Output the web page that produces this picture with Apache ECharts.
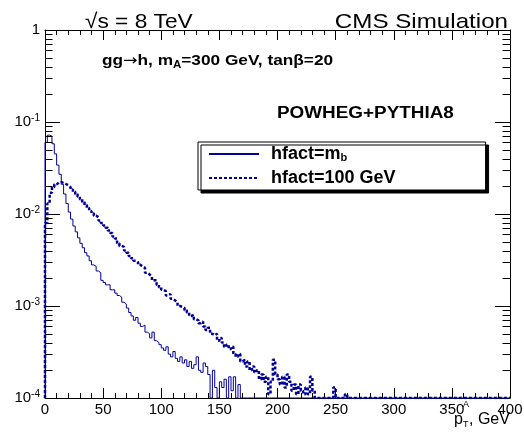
<!DOCTYPE html>
<html><head><meta charset="utf-8">
<script src="https://cdn.jsdelivr.net/npm/echarts@6/dist/echarts.min.js"></script>
<style>html,body{margin:0;padding:0;background:#fff}#c{width:524px;height:435px}</style>
</head><body><div id="c"></div>
<script>
// ---- data (histograms, 2 GeV bins starting at 0) ----
const binWidth = 2;
const seriesNames = ['hfact=m_b', 'hfact=100 GeV'];
const mbValues = [
  0.060, 0.072, 0.070, 0.058, 0.045, 0.034, 0.027, 0.021, 0.0165, 0.013,
  0.0105, 0.0088, 0.0074, 0.0064, 0.0055, 0.0048, 0.0043, 0.0038, 0.0035, 0.0031,
  0.0028, 0.0027, 0.0024, 0.0023, 0.0019, 0.0018, 0.0017, 0.0017, 0.0015, 0.0015,
  0.00138, 0.0013, 0.00125, 0.0011, 0.00105, 0.00095, 0.00085, 0.00078, 0.0007, 0.00075,
  0.00065, 0.0006, 0.00062, 0.00052, 0.0005, 0.00045, 0.00052, 0.00042, 0.0004, 0.00038,
  0.00035, 0.00033, 0.00036, 0.0003, 0.00028, 0.00032, 0.00027, 0.00025, 0.00028, 0.00024,
  0.00026, 0.00022, 0.00025, 0.00021, 0.00023, 0.00028, 0.0002, 0.00019, 0.00024, 0.00022,
  0.00018, 0, 0.0002, 0.00013, 0, 0.00015, 0.00013, 0.00016, 0, 0.00017,
  0.00012, 0.00017, 0, 0.00014, 0
];
const hundredValues = [
  0.008, 0.013, 0.017, 0.0197, 0.021, 0.022, 0.0222, 0.0218, 0.0212, 0.0205,
  0.0195, 0.0185, 0.0175, 0.0165, 0.0155, 0.0145, 0.0135, 0.0125, 0.0116, 0.0108,
  0.0102, 0.0096, 0.0092, 0.0085, 0.008, 0.0075, 0.0071, 0.0066, 0.0062, 0.0057,
  0.0054, 0.0048, 0.0045, 0.0044, 0.004, 0.0038, 0.0035, 0.0033, 0.0031, 0.0030,
  0.0028, 0.0027, 0.0026, 0.0023, 0.0022, 0.0021, 0.0019, 0.0019, 0.0017, 0.0016,
  0.0015, 0.00145, 0.0013, 0.00135, 0.0012, 0.00115, 0.0011, 0.001, 0.00098, 0.00095,
  0.0009, 0.00085, 0.00078, 0.0008, 0.00072, 0.0007, 0.00065, 0.00068, 0.0006, 0.00055,
  0.00058, 0.0005, 0.00048, 0.0005, 0.00042, 0.00045, 0.0004, 0.00036, 0.00038, 0.00034,
  0.00036, 0.0003, 0.00028, 0.0003, 0.00025, 0.00026, 0.00022, 0.00025, 0.0002, 0.00022,
  0.00019, 0.0002, 0.00016, 0.00018, 0.00015, 0.00017, 0.00011, 0.00015, 0.00026, 0.00018,
  0.00016, 0.00014, 0.00017, 0.00013, 0.00018, 0.00015, 0.00012, 0.00014, 0.00011, 0.00014,
  0.00012, 0.00011, 0.00013, 0.00011, 0.00017, 0.00012, 0, 0, 0, 0,
  0, 0, 0, 0, 0.00013, 0, 0, 0, 0, 0.00011
];
const xTickValues = [0, 50, 100, 150, 200, 250, 300, 350, 400];
const yDecades = [1e-4, 1e-3, 1e-2, 1e-1, 1];

// ---- build step outlines from bins ----
const X_MIN = xTickValues[0], X_MAX = xTickValues[xTickValues.length - 1];
const Y_MIN = yDecades[0], Y_MAX = yDecades[yDecades.length - 1];
function histPath(vals) {
  const pts = [[X_MIN, Y_MIN]];
  vals.forEach((v, i) => {
    const y = v > 0 ? v : Y_MIN;
    pts.push([X_MIN + i * binWidth, y], [X_MIN + (i + 1) * binWidth, y]);
  });
  pts.push([X_MIN + vals.length * binWidth, Y_MIN], [X_MAX, Y_MIN]);
  return pts;
}
const minorVals = [];
for (let d = 0; d < yDecades.length - 1; d++)
  for (let k = 2; k <= 9; k++) minorVals.push(k * yDecades[d]);

const COLOR = '#000099';
const FONT = 'Liberation Sans';
const chart = echarts.init(document.getElementById('c'), null, {renderer: 'canvas'});

const axisCommonX = {
  type: 'value', min: X_MIN, max: X_MAX, interval: 50,
  axisLine: {show: true, onZero: false, lineStyle: {color: '#000', width: 1}},
  axisTick: {show: true, inside: true, length: 10, lineStyle: {color: '#000'}},
  minorTick: {show: true, splitNumber: 5, length: 5, lineStyle: {color: '#000'}},
  splitLine: {show: false}, minorSplitLine: {show: false}
};
const axisCommonY = {
  type: 'log', logBase: 10, min: Y_MIN, max: Y_MAX,
  axisLine: {show: true, onZero: false, lineStyle: {color: '#000', width: 1}},
  axisTick: {show: true, inside: true, length: 15, lineStyle: {color: '#000'}},
  splitLine: {show: false}
};

chart.setOption({
  animation: false,
  backgroundColor: '#fff',
  grid: {left: 45, right: 14, top: 30, bottom: 37, containLabel: false, outerBoundsMode: 'none'},
  xAxis: [
    Object.assign({}, axisCommonX, {
      position: 'bottom',
      axisLabel: {show: true, fontSize: 15, color: '#000', fontFamily: FONT, margin: 4,
        showMinLabel: true, showMaxLabel: true}
    }),
    Object.assign({}, axisCommonX, {position: 'top', axisLabel: {show: false}})
  ],
  yAxis: [
    Object.assign({}, axisCommonY, {
      position: 'left',
      axisLabel: {
        show: true, margin: 5, color: '#000', fontFamily: FONT,
        formatter: v => {
          const e = Math.round(Math.log10(v));
          return e === 0 ? '{b|1}' : '{b|10}{s|' + e + '}';
        },
        rich: {
          b: {fontSize: 15, fontFamily: FONT, color: '#000'},
          s: {fontSize: 10, fontFamily: FONT, color: '#000', verticalAlign: 'top', padding: [0, 0, 7, 0]}
        }
      }
    }),
    Object.assign({}, axisCommonY, {position: 'right', axisLabel: {show: false}})
  ],
  legend: {
    data: seriesNames,
    orient: 'vertical', left: 198, top: 142,
    backgroundColor: '#fff', borderColor: '#000', borderWidth: 1,
    shadowColor: '#000', shadowBlur: 0, shadowOffsetX: 3, shadowOffsetY: 3,
    padding: [3, 90, 3, 10], itemGap: 6, itemWidth: 50, itemHeight: 14,
    itemStyle: {opacity: 0},
    textStyle: {fontSize: 18, fontWeight: 'bold', fontFamily: FONT, color: '#000', padding: [0, 0, 0, 7],
      rich: {sub: {fontSize: 11, fontWeight: 'bold', fontFamily: FONT, color: '#000', verticalAlign: 'bottom', padding: [6, 0, 0, 0]}}},
    formatter: n => n === 'hfact=m_b' ? 'hfact=m{sub|b}' : n,
    selectedMode: false
  },
  series: [
    {
      name: seriesNames[0], type: 'line', xAxisIndex: 0, yAxisIndex: 0,
      data: histPath(mbValues), symbol: 'none', showSymbol: false,
      lineStyle: {color: COLOR, width: 1}, itemStyle: {color: COLOR}, clip: true, z: 3
    },
    {
      name: seriesNames[1], type: 'line', xAxisIndex: 0, yAxisIndex: 0,
      data: histPath(hundredValues), symbol: 'none', showSymbol: false,
      lineStyle: {color: COLOR, width: 2.5, type: [3, 2]}, itemStyle: {color: COLOR}, clip: true, z: 3
    },
    {
      name: 'minorTicks', type: 'custom', coordinateSystem: 'cartesian2d', xAxisIndex: 0, yAxisIndex: 0,
      silent: true, clip: false, z: 4,
      data: minorVals.map(v => [X_MIN, v]),
      renderItem: (params, api) => {
        const y = api.value(1);
        const L = api.coord([X_MIN, y]);
        const R = api.coord([X_MAX, y]);
        const py = Math.round(L[1]) + 0.5;
        return {type: 'group', children: [
          {type: 'line', shape: {x1: L[0], y1: py, x2: L[0] + 7.5, y2: py}, style: {stroke: '#000', lineWidth: 1}},
          {type: 'line', shape: {x1: R[0], y1: py, x2: R[0] - 7.5, y2: py}, style: {stroke: '#000', lineWidth: 1}}
        ]};
      }
    }
  ],
  graphic: [
    {type: 'text', x: 85, y: 22, scaleX: 1.08,
     style: {text: '√s = 8 TeV', font: '21px "Liberation Sans"', fill: '#000', verticalAlign: 'middle', align: 'left'}},
    {type: 'text', x: 508, y: 22, scaleX: 1.15,
     style: {text: 'CMS Simulation', font: '21px "Liberation Sans"', fill: '#000', verticalAlign: 'middle', align: 'right'}},
    {type: 'text', x: 102, y: 61, scaleX: 1.15,
     style: {text: 'gg{arr|→}h, m{sub|A}=300 GeV, tanβ=20', font: 'bold 15px "Liberation Sans"', fill: '#000',
       verticalAlign: 'middle', align: 'left',
       rich: {
         arr: {font: '15px "DejaVu Sans"', fill: '#000'},
         sub: {font: 'bold 10px "Liberation Sans"', fill: '#000', verticalAlign: 'bottom', padding: [8, 0, 0, 0]}
       }}},
    {type: 'text', x: 277, y: 114, scaleX: 1.18,
     style: {text: 'POWHEG+PYTHIA8', font: 'bold 16px "Liberation Sans"', fill: '#000', verticalAlign: 'middle', align: 'left'}},
    {type: 'text', x: 454, y: 420,
     style: {text: 'p', font: '16px "Liberation Sans"', fill: '#000', verticalAlign: 'middle', align: 'left'}},
    {type: 'text', x: 463, y: 405,
     style: {text: 'A', font: '9px "Liberation Sans"', fill: '#000', verticalAlign: 'middle', align: 'left'}},
    {type: 'text', x: 463, y: 425,
     style: {text: 'T', font: '9px "Liberation Sans"', fill: '#000', verticalAlign: 'middle', align: 'left'}},
    {type: 'text', x: 469, y: 420,
     style: {text: ', GeV', font: '16px "Liberation Sans"', fill: '#000', verticalAlign: 'middle', align: 'left'}}
  ]
});
</script></body></html>
